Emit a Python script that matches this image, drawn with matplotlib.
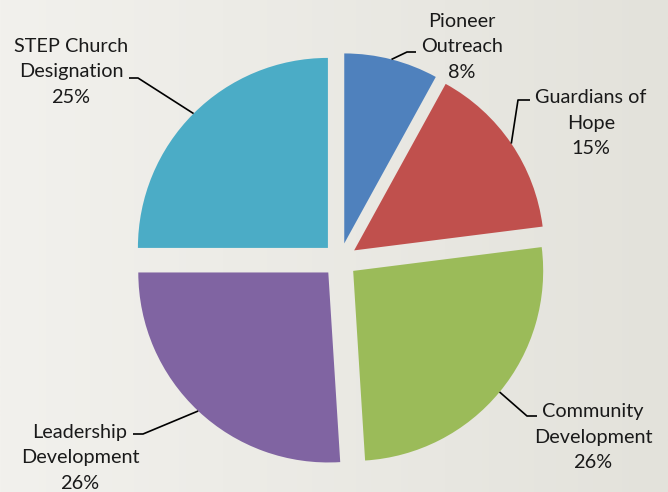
import numpy as np
import matplotlib
matplotlib.use("Agg")
import matplotlib.pyplot as plt
from matplotlib.colors import LinearSegmentedColormap

categories = ["Pioneer\nOutreach", "Guardians of\nHope", "Community\nDevelopment",
              "Leadership\nDevelopment", "STEP Church\nDesignation"]
values = [8, 15, 26, 26, 25]
colors = ["#4F81BD", "#C0504D", "#9BBB59", "#8064A2", "#4BACC6"]

W, H = 668, 492
CX, CY, R = 340, 260, 190  # pie centre and radius in pixels
EXPLODE = 0.09

# label centres and leader elbows/ends (pixels)
label_pos = [(462, 47), (591, 123), (593, 437), (80, 458), (71, 72)]
elbow_pos = [((407, 52), (416, 52)), ((518, 100), (530, 100)),
             ((527, 416), (537, 416)), ((143, 434), (133, 434)),
             ((138, 78), (129, 78))]

plt.rcParams['font.family'] = ['Lato', 'DejaVu Sans']

fig = plt.figure(figsize=(W / 100, H / 100), dpi=100)

# background gradient
bg = fig.add_axes([0, 0, 1, 1])
grad = np.linspace(0, 1, 256)[None, :]
cmap = LinearSegmentedColormap.from_list("bg", ["#f2f1ed", "#e3e2db"])
bg.imshow(grad, aspect="auto", cmap=cmap, extent=[0, 1, 0, 1])
bg.axis("off")

ax = fig.add_axes([0, 0, 1, 1])
ax.set_facecolor("none")

def px(x, y):
    return ((x - CX) / R, (CY - y) / R)

wedges, _ = ax.pie(values, colors=colors, startangle=90, counterclock=False,
                   explode=[EXPLODE] * len(values), radius=1,
                   wedgeprops=dict(linewidth=0))

ax.set_xlim(-CX / R, (W - CX) / R)
ax.set_ylim(-(H - CY) / R, CY / R)
ax.set_aspect("equal")
ax.axis("off")

for w, cat, val, lp, (el, end) in zip(wedges, categories, values, label_pos, elbow_pos):
    theta = np.deg2rad((w.theta1 + w.theta2) / 2)
    cx, cy = w.center
    sx, sy = cx + w.r * np.cos(theta), cy + w.r * np.sin(theta)
    ex, ey = px(*el)
    fx, fy = px(*end)
    ax.plot([sx, ex, fx], [sy, ey, fy], color="black", lw=1.2, solid_capstyle="butt")
    tx, ty = px(*lp)
    ax.text(tx, ty, f"{cat}\n{val}%", ha="center", va="center", fontsize=14.3,
            linespacing=1.62, color="#1a1a1a")

fig.savefig("out.png", dpi=100)
